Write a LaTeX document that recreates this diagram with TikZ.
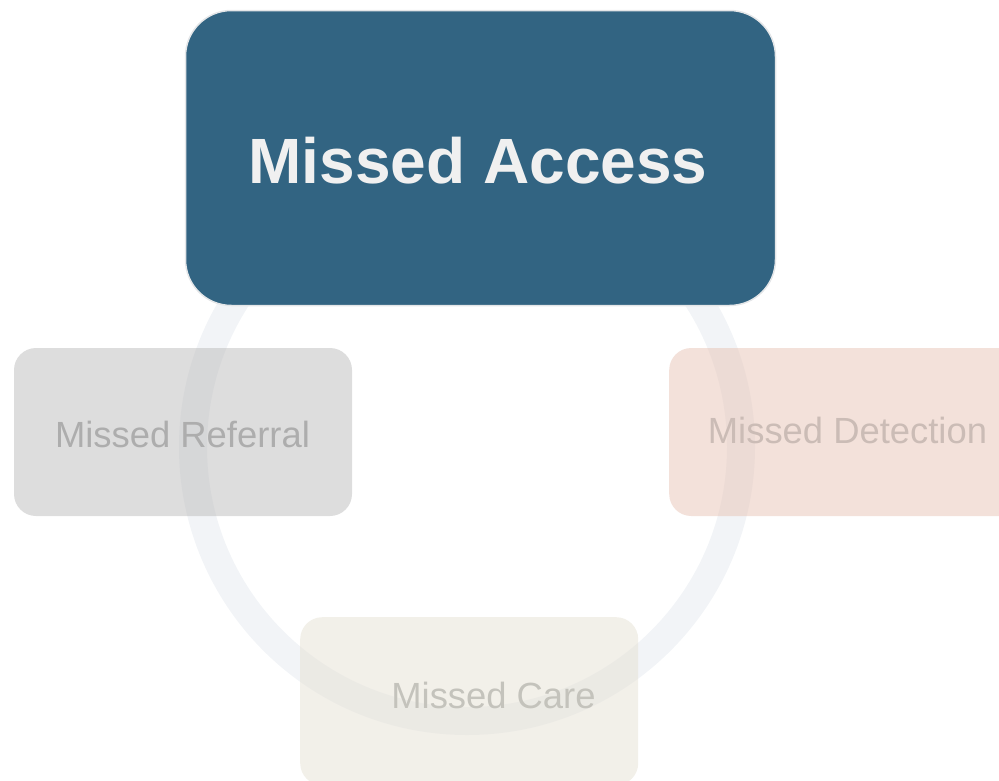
\documentclass[tikz,border=0pt]{standalone}
\usepackage{fontspec}
\setmainfont{Liberation Sans}
\definecolor{ringcol}{HTML}{F2F4F7}
\definecolor{accessfill}{HTML}{326482}
\definecolor{accessedge}{HTML}{E4E6E8}
\definecolor{accesstext}{HTML}{F0F0F0}
\definecolor{referralfill}{HTML}{BBBBBB}
\definecolor{referraltext}{HTML}{ADADAD}
\definecolor{detectionfill}{HTML}{E7C3B5}
\definecolor{detectiontext}{HTML}{CBBCB6}
\definecolor{carefill}{HTML}{E5E1D3}
\definecolor{caretext}{HTML}{C4C3BC}
\tikzset{
  stagebox/.style={rectangle, rounded corners=22pt, fill opacity=0.5,
    minimum width=338pt, minimum height=168pt, inner sep=0pt},
  stagelabel/.style={font=\fontsize{36.4}{40}\selectfont, inner sep=0pt},
  mainbox/.style={rectangle, rounded corners=46pt, fill=accessfill,
    draw=accessedge, line width=1.5pt,
    minimum width=590pt, minimum height=295pt, inner sep=0pt},
  mainlabel/.style={font=\fontsize{64}{70}\selectfont\bfseries,
    text=accesstext, inner sep=0pt},
}
\begin{document}
\begin{tikzpicture}[x=1pt, y=-1pt]
  \useasboundingbox (0,0) rectangle (999,780);
  \begin{scope}
    \clip (0,0) rectangle (999,780);
    % cycle ring behind the stages
    \node (ringc) at (467,447) {};
    \draw[ringcol, line width=28pt] (ringc.center) circle[radius=274pt];
    % faded stages
    \node[stagebox, fill=referralfill] (referral) at (183,432) {};
    \node[stagelabel, text=referraltext] (referraltxt) at (182.5,434) {Missed Referral};
    \node[stagebox, fill=detectionfill, minimum width=360pt, anchor=west] (detection) at (669,432) {};
    \node[stagelabel, text=detectiontext] (detectiontxt) at (847.5,430) {Missed Detection};
    \node[stagebox, fill=carefill, anchor=north west] (care) at (300,617) {};
    \node[stagelabel, text=caretext] (caretxt) at (493.5,695) {Missed Care};
    % highlighted stage
    \node[mainbox] (access) at (480.5,158) {};
    \node[mainlabel] (accesstxt) at (478,161) {Missed Access};
  \end{scope}
\end{tikzpicture}
\end{document}
